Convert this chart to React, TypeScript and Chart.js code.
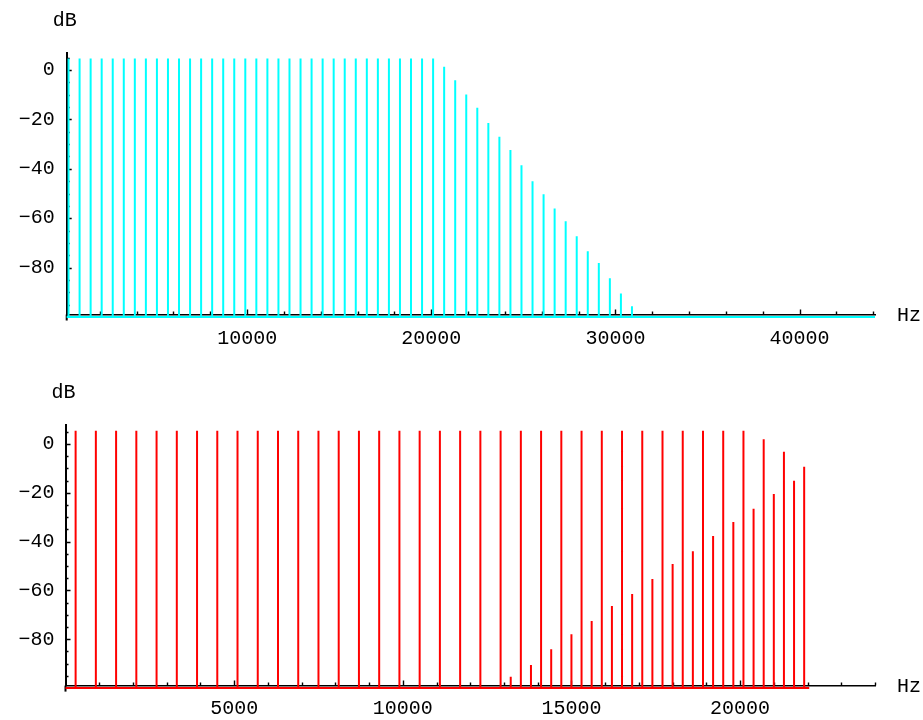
import React, { useEffect, useRef } from "react";
import { Chart, registerables } from "chart.js";

Chart.register(...registerables);

const FONT = '"Liberation Mono", "Courier New", monospace';

// ---------- Top panel: spectrum before decimation (0 .. 44100 Hz) ----------
const TOP_FREQS_HZ = [
  300, 900, 1500, 2100, 2700, 3300, 3900, 4500, 5100, 5700, 6300, 6900, 7500, 8100, 8700, 9300,
  9900, 10500, 11100, 11700, 12300, 12900, 13500, 14100, 14700, 15300, 15900, 16500, 17100,
  17700, 18300, 18900, 19500, 20100, 20700, 21300, 21900, 22500, 23100, 23700, 24300, 24900,
  25500, 26100, 26700, 27300, 27900, 28500, 29100, 29700, 30300, 30900,
];
const TOP_LEVELS_DB = [
  4.7, 4.7, 4.7, 4.7, 4.7, 4.7, 4.7, 4.7, 4.7, 4.7, 4.7, 4.7, 4.7, 4.7, 4.7, 4.7,
  4.7, 4.7, 4.7, 4.7, 4.7, 4.7, 4.7, 4.7, 4.7, 4.7, 4.7, 4.7, 4.7,
  4.7, 4.7, 4.7, 4.7, 4.7, 1.3, -4.1, -9.9, -15.3, -21.4, -27.0, -32.4, -38.6,
  -45.0, -50.3, -56.1, -61.2, -67.3, -73.4, -78.1, -84.3, -90.5, -95.7,
];
const TOP_X_TICKS = [10000, 20000, 30000, 40000];

// ---------- Bottom panel: spectrum after decimation (0 .. 22050 Hz) ----------
const BOTTOM_FREQS_HZ = [
  300, 900, 1500, 2100, 2700, 3300, 3900, 4500, 5100, 5700, 6300, 6900, 7500, 8100, 8700, 9300,
  9900, 10500, 11100, 11700, 12300, 12900, 13500, 14100, 14700, 15300, 15900, 16500, 17100,
  17700, 18300, 18900, 19500, 20100, 20700, 21300, 21900,
];
const BOTTOM_LEVELS_DB = [
  5.4, 5.4, 5.4, 5.4, 5.4, 5.4, 5.4, 5.4, 5.4, 5.4, 5.4, 5.4, 5.4, 5.4, 5.4, 5.4,
  5.4, 5.4, 5.4, 5.4, 5.4, 5.4, 5.4, 5.4, 5.4, 5.4, 5.4, 5.4, 5.4,
  5.4, 5.4, 5.4, 5.4, 5.4, 2.0, -3.2, -9.3,
];
const ALIAS_FREQS_HZ = [
  13200, 13800, 14400, 15000, 15600, 16200, 16800, 17400, 18000, 18600, 19200, 19800, 20400,
  21000, 21600,
];
const ALIAS_LEVELS_DB = [
  -95.4, -90.6, -84.1, -78.0, -72.5, -66.4, -61.5, -55.3, -49.2, -43.9, -37.7, -32.0, -26.5,
  -20.5, -15.0,
];
const BOTTOM_X_TICKS = [5000, 10000, 15000, 20000];

const Y_TICKS = [0, -20, -40, -60, -80];
const FLOOR_DB = -100;

function buildStemLine(
  freqs: number[],
  levels: number[],
  floor: number,
  start: number,
  end: number
) {
  const order = freqs.map((_, i) => i).sort((a, b) => freqs[a] - freqs[b]);
  const pts: { x: number; y: number }[] = [{ x: start, y: floor }];
  for (const i of order) {
    pts.push({ x: freqs[i], y: floor }, { x: freqs[i], y: levels[i] }, { x: freqs[i], y: floor });
  }
  pts.push({ x: end, y: floor });
  return pts;
}

const decorPlugin = {
  id: "decor",
  beforeDatasetsDraw(chart: any, _args: any, opts: any) {
    const { ctx, chartArea: a, scales } = chart;
    const x = scales.x;
    const y = scales.y;
    ctx.save();
    ctx.strokeStyle = "#000";
    ctx.lineWidth = 1.4;
    ctx.beginPath();
    for (let v = opts.xMinor; v <= x.max + 1e-6; v += opts.xMinor) {
      if (v < x.min) continue;
      const px = Math.round(x.getPixelForValue(v)) + 0.5;
      const len = v % opts.xMajor === 0 ? 5 : 3;
      ctx.moveTo(px, a.bottom);
      ctx.lineTo(px, a.bottom - len);
    }
    for (let v = -95; v <= y.max + 1e-6; v += 5) {
      const py = Math.round(y.getPixelForValue(v)) + 0.5;
      const len = v % 20 === 0 ? 5 : 3;
      ctx.moveTo(a.left, py);
      ctx.lineTo(a.left + len, py);
    }
    ctx.stroke();
    ctx.lineWidth = 2;
    ctx.beginPath();
    ctx.moveTo(a.left, a.bottom);
    ctx.lineTo(a.left, a.bottom + 6);
    ctx.stroke();
    ctx.restore();
  },
  afterDraw(chart: any) {
    const { ctx, chartArea: a } = chart;
    ctx.save();
    ctx.fillStyle = "#000";
    ctx.font = `20px ${FONT}`;
    ctx.textBaseline = "alphabetic";
    ctx.textAlign = "center";
    ctx.fillText("dB", a.left - 2, a.top - 27);
    ctx.textAlign = "left";
    ctx.fillText("Hz", a.right + 22, a.bottom + 6.5);
    ctx.restore();
  },
};

type PanelProps = {
  points: { x: number; y: number }[];
  color: string;
  xMin: number;
  xMax: number;
  yMax: number;
  xTicks: number[];
  xMinor: number;
  xMajor: number;
  areaTop: number;
  areaLeft: number;
  xAxisHeight: number;
  xPad: number;
  yPad: number;
};

function Panel(p: PanelProps) {
  const ref = useRef<HTMLCanvasElement>(null);
  useEffect(() => {
    const tickFont = { family: FONT, size: 20 };
    const chart = new Chart(ref.current as HTMLCanvasElement, {
      type: "line",
      data: {
        datasets: [
          {
            data: p.points,
            borderColor: p.color,
            backgroundColor: p.color,
            borderWidth: 2,
            pointRadius: 0,
            tension: 0,
            fill: false,
            clip: 8,
          } as any,
        ],
      },
      options: {
        animation: false,
        responsive: false,
        devicePixelRatio: 1,
        events: [],
        layout: { padding: { top: p.areaTop, right: 923 - 875, left: 0, bottom: 0 } },
        plugins: {
          legend: { display: false },
          tooltip: { enabled: false },
          decor: { xMinor: p.xMinor, xMajor: p.xMajor },
        } as any,
        scales: {
          x: {
            type: "linear",
            position: "bottom",
            min: p.xMin,
            max: p.xMax,
            afterFit: (s: any) => {
              s.height = p.xAxisHeight;
            },
            afterBuildTicks: (s: any) => {
              s.ticks = p.xTicks.map((v) => ({ value: v }));
            },
            grid: { display: true, drawOnChartArea: false, drawTicks: false },
            border: { display: true, color: "#000", width: 1.5 },
            ticks: {
              padding: p.xPad,
              font: tickFont,
              color: "#000",
              maxRotation: 0,
              autoSkip: false,
              callback: (v: any) => String(v),
            },
          },
          y: {
            type: "linear",
            min: -99,
            max: p.yMax,
            afterFit: (s: any) => {
              s.width = p.areaLeft;
            },
            afterBuildTicks: (s: any) => {
              s.ticks = Y_TICKS.map((v) => ({ value: v }));
            },
            grid: { display: true, drawOnChartArea: false, drawTicks: false },
            border: { display: true, color: "#000", width: 2 },
            ticks: {
              padding: p.yPad,
              font: tickFont,
              color: "#000",
              autoSkip: false,
              callback: (v: any) => (Number(v) < 0 ? "\u2212" + Math.abs(Number(v)) : String(v)),
            },
          },
        },
      } as any,
      plugins: [decorPlugin as any],
    });
    return () => chart.destroy();
  }, []);
  return <canvas ref={ref} width={923} height={360} style={{ display: "block" }} />;
}

export default function App() {
  const topPoints = buildStemLine(TOP_FREQS_HZ, TOP_LEVELS_DB, FLOOR_DB, 200, 44100);
  const bottomPoints = buildStemLine(
    [...BOTTOM_FREQS_HZ, ...ALIAS_FREQS_HZ],
    [...BOTTOM_LEVELS_DB, ...ALIAS_LEVELS_DB],
    FLOOR_DB,
    0,
    22050
  );
  return (
    <div
      style={{
        position: "fixed",
        left: 0,
        top: 0,
        width: 923,
        height: 720,
        background: "#fff",
        overflow: "hidden",
      }}
    >
      <Panel
        points={topPoints}
        color="#00ffff"
        xMin={200}
        xMax={44100}
        yMax={6.9}
        xTicks={TOP_X_TICKS}
        xMinor={2000}
        xMajor={10000}
        areaTop={53}
        areaLeft={66.7}
        xAxisHeight={45.5}
        xPad={12}
        yPad={12}
      />
      <Panel
        points={bottomPoints}
        color="#ff0000"
        xMin={0}
        xMax={24000}
        yMax={7.8}
        xTicks={BOTTOM_X_TICKS}
        xMinor={1000}
        xMajor={5000}
        areaTop={65}
        areaLeft={65.5}
        xAxisHeight={34.4}
        xPad={11}
        yPad={11}
      />
    </div>
  );
}
